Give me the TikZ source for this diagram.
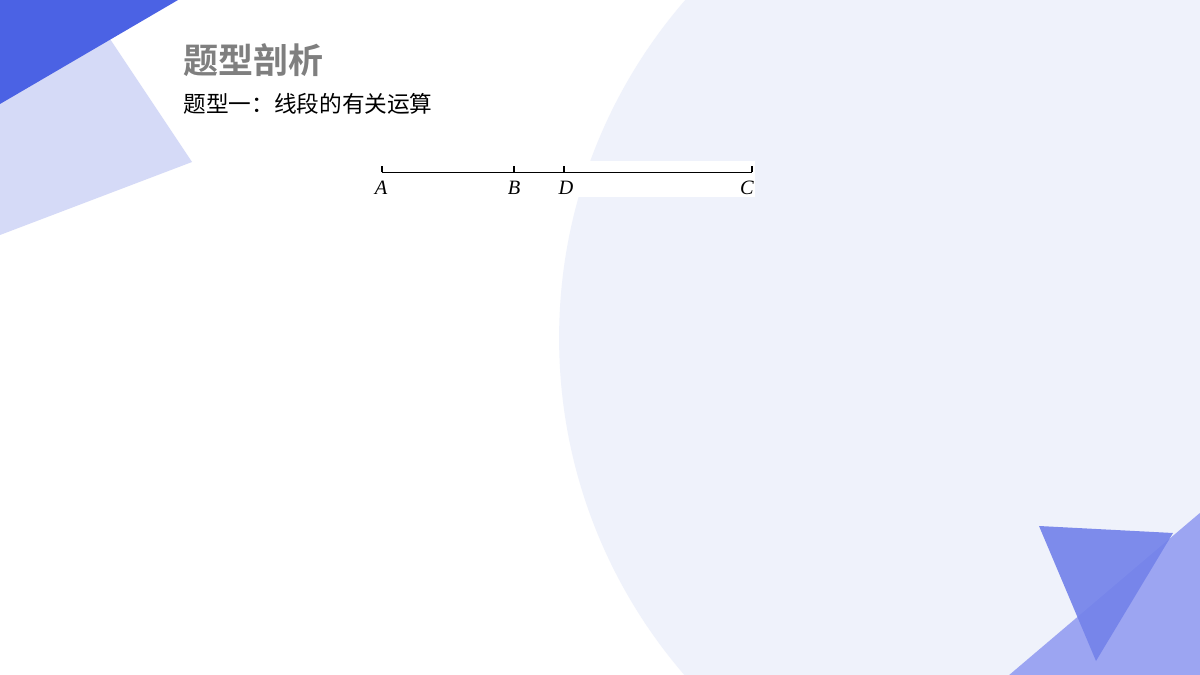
\documentclass[tikz,border=0pt]{standalone}
\usepackage{fontspec}
\newfontfamily\cjk{Noto Sans CJK SC}
\newfontfamily\cjkb{Noto Sans CJK SC Bold}
\setmainfont{Liberation Serif}
\usetikzlibrary{calc}
\definecolor{bgc}{HTML}{EFF2FB}
\definecolor{darkb}{HTML}{4B62E4}
\definecolor{lightb}{HTML}{D5DAF7}
\definecolor{midb}{HTML}{9CA5F2}
\definecolor{triB}{HTML}{7483EA}
\definecolor{titleg}{HTML}{7F7F7F}
\tikzset{
  ptlabel/.style={font=\fontsize{11.6pt}{13pt}\selectfont\itshape, inner sep=0pt},
  tick/.style={line width=0.7pt},
  seg/.style={line width=0.7pt}
}
\begin{document}
\begin{tikzpicture}[x=0.02cm,y=-0.02cm]
\useasboundingbox (0,0) rectangle (1200,675);
\clip (0,0) rectangle (1200,675);
\fill[white] (0,0) rectangle (1200,675);
% big circle
\fill[bgc] (1075,338) circle (10.32cm);
% top-left shapes
\fill[lightb] (0,0) -- (84,0) -- (192,162) -- (0,235) -- cycle;
\fill[darkb] (0,0) -- (178,0) -- (0,104) -- cycle;
% bottom-right shapes
\fill[midb] (1008,676) -- (1201,512) -- (1201,676) -- cycle;
\fill[triB, opacity=0.92] (1039,526) -- (1173,533) -- (1096,661) -- cycle;
% titles
\node[anchor=west, inner sep=0pt, text=titleg, font=\cjkb\fontsize{19.9pt}{22pt}\selectfont] (title) at (183,60) {题型剖析};
\node[anchor=west, inner sep=0pt, text=black, font=\cjk\fontsize{12.9pt}{15pt}\selectfont] (sub) at (183,104) {题型一：线段的有关运算};
% figure
\fill[white] (370,161) rectangle (755,197);
\coordinate (A) at (382,172.5);
\coordinate (B) at (514,172.5);
\coordinate (D) at (564,172.5);
\coordinate (C) at (752,172.5);
\draw[seg] (A) -- (B) -- (D) -- (C);
\foreach \p in {A,B,D,C} \draw[tick] (\p) -- ++(0,-6.5);
\node[ptlabel] (lA) at (381,188) {A};
\node[ptlabel] (lB) at (514,188) {B};
\node[ptlabel] (lD) at (566,188) {D};
\node[ptlabel] (lC) at (747,188) {C};
\end{tikzpicture}
\end{document}
